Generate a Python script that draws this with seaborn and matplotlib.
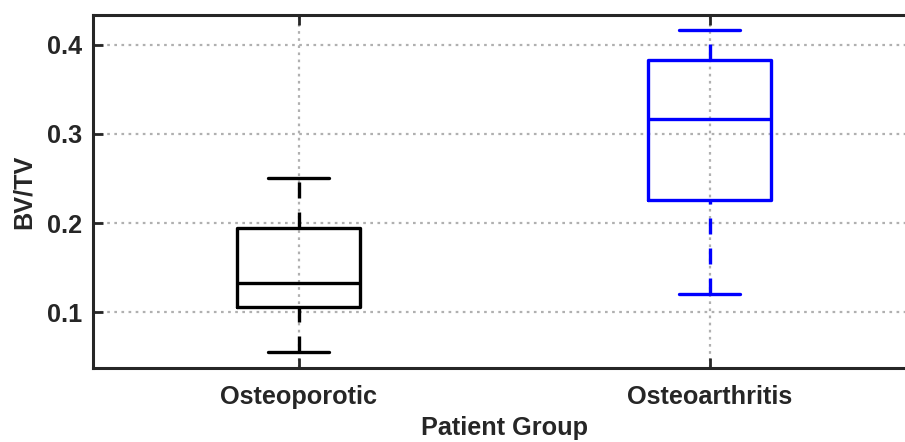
import numpy as np
import pandas as pd
import matplotlib
matplotlib.use("Agg")
import matplotlib.pyplot as plt
import seaborn as sns

# Box statistics (BV/TV per patient group)
groups = ['Osteoporotic', 'Osteoarthritis']
whisker_low = [0.056, 0.121]
q1 = [0.106, 0.226]
median = [0.133, 0.317]
q3 = [0.194, 0.383]
whisker_high = [0.251, 0.416]
colors = ['black', 'blue']

yticks = [0.1, 0.2, 0.3, 0.4]

# five points per group -> quartiles land exactly on q1/median/q3, whiskers on min/max
rows = []
for i, g in enumerate(groups):
    for v in (whisker_low[i], q1[i], median[i], q3[i], whisker_high[i]):
        rows.append({'group': g, 'bvtv': v})
df = pd.DataFrame(rows)

sns.set_style('ticks')
plt.rcParams['font.family'] = ['Liberation Sans', 'DejaVu Sans']
plt.rcParams['font.weight'] = 'bold'
plt.rcParams['axes.labelweight'] = 'bold'

dark = '#262626'
fsize = 18.2
lw = 2.4

fig = plt.figure(figsize=(9.05, 4.42), dpi=100)
ax = fig.add_axes([93 / 905, 1 - 368 / 442, 822 / 905, 353 / 442])

sns.boxplot(data=df, x='group', y='bvtv', hue='group', palette=colors,
            fill=False, width=0.3, linewidth=lw, whis=(0, 100),
            showfliers=False, legend=False,
            boxprops=dict(linewidth=lw),
            medianprops=dict(linewidth=lw),
            capprops=dict(linewidth=lw),
            whiskerprops=dict(linewidth=lw, linestyle=(0, (4.8, 4.2))),
            ax=ax)

# MATLAB draws the lower whisker from the bottom up; flip so dashes start at the cap
for line in ax.lines:
    x, y = line.get_xdata(), line.get_ydata()
    if len(y) == 2 and x[0] == x[1] and y[1] < y[0]:
        line.set_ydata(np.asarray(y)[::-1])

ax.set_xlim(-0.5, 1.5)
ax.set_ylim(0.0376, 0.4333)
ax.set_yticks(yticks)
ax.set_yticklabels([f'{t:.1f}' for t in yticks])

ax.grid(True, linestyle=(0, (1.2, 2.0)), color='#b0b0b0', linewidth=1.6)
ax.set_axisbelow(True)

for s in ax.spines.values():
    s.set_linewidth(2.2)
    s.set_color(dark)
    s.set_visible(True)

ax.tick_params(direction='in', length=7, width=2.0, top=True, right=True,
               colors=dark, labelsize=fsize)
ax.tick_params(axis='x', pad=12)
ax.tick_params(axis='y', pad=8)

ax.set_xlabel('Patient Group', fontsize=fsize, color=dark, labelpad=5)
ax.set_ylabel('BV/TV', fontsize=fsize, color=dark, labelpad=8)

plt.savefig('out.png', dpi=100)
